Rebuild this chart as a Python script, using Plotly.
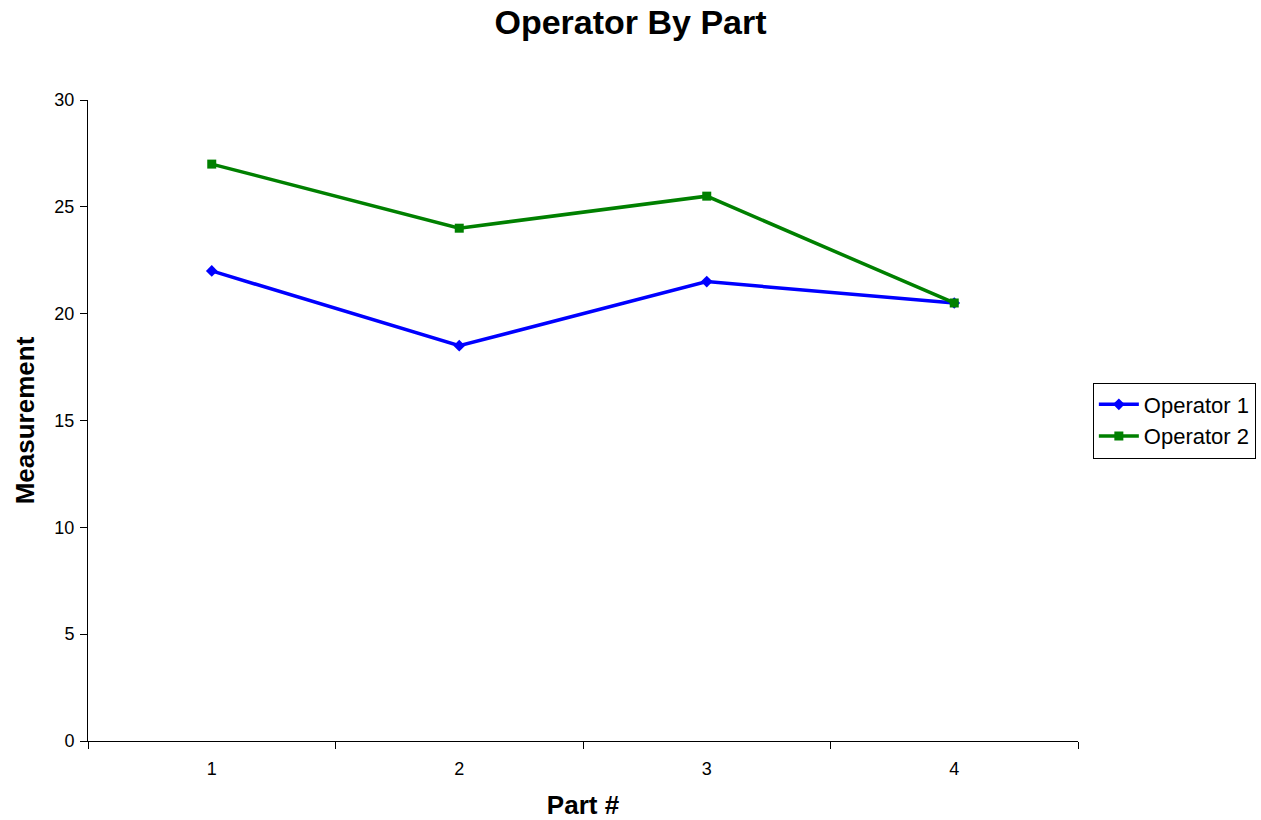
import plotly.graph_objects as go

parts = ["1", "2", "3", "4"]
operator_1 = [22, 18.5, 21.5, 20.5]
operator_2 = [27, 24, 25.5, 20.5]
y_ticks = [0, 5, 10, 15, 20, 25, 30]

fig = go.Figure()
fig.add_trace(go.Scatter(
    x=parts, y=operator_1, name="Operator 1", mode="lines+markers",
    line=dict(color="#0000FF", width=3.5),
    marker=dict(symbol="diamond", size=9, color="#0000FF"),
))
fig.add_trace(go.Scatter(
    x=parts, y=operator_2, name="Operator 2", mode="lines+markers",
    line=dict(color="#008000", width=3.5),
    marker=dict(symbol="square", size=9, color="#008000"),
))

fig.update_layout(
    width=1261, height=820,
    margin=dict(l=88, r=183, t=100, b=79, autoexpand=False),
    paper_bgcolor="white", plot_bgcolor="white",
    font=dict(family="Liberation Sans, Arial, sans-serif", size=18, color="black"),
    title=dict(text="<b>Operator By Part</b>", x=0.5, xanchor="center",
               y=0.973, yanchor="middle", font=dict(size=34)),
    xaxis=dict(
        type="category", range=[-0.5, 3.5], automargin=False,
        showline=True, linecolor="black", linewidth=1,
        ticks="outside", tickson="boundaries", ticklen=7, tickcolor="black",
        ticklabelstandoff=11,
        showgrid=False, zeroline=False,
        title=dict(text="<b>Part #</b>", font=dict(size=26), standoff=19),
    ),
    yaxis=dict(
        range=[0, 30], tickvals=y_ticks, automargin=False,
        showline=True, linecolor="black", linewidth=1,
        ticks="outside", ticklen=7, tickcolor="black",
        ticklabelstandoff=2,
        showgrid=False, zeroline=False,
        title=dict(text="<b>Measurement</b>", font=dict(size=26), standoff=12),
    ),
    legend=dict(
        x=1.015, xanchor="left", y=0.5, yanchor="middle",
        bordercolor="black", borderwidth=1, font=dict(size=22),
        itemwidth=40, tracegroupgap=0,
    ),
)

fig.write_html("out.html")
